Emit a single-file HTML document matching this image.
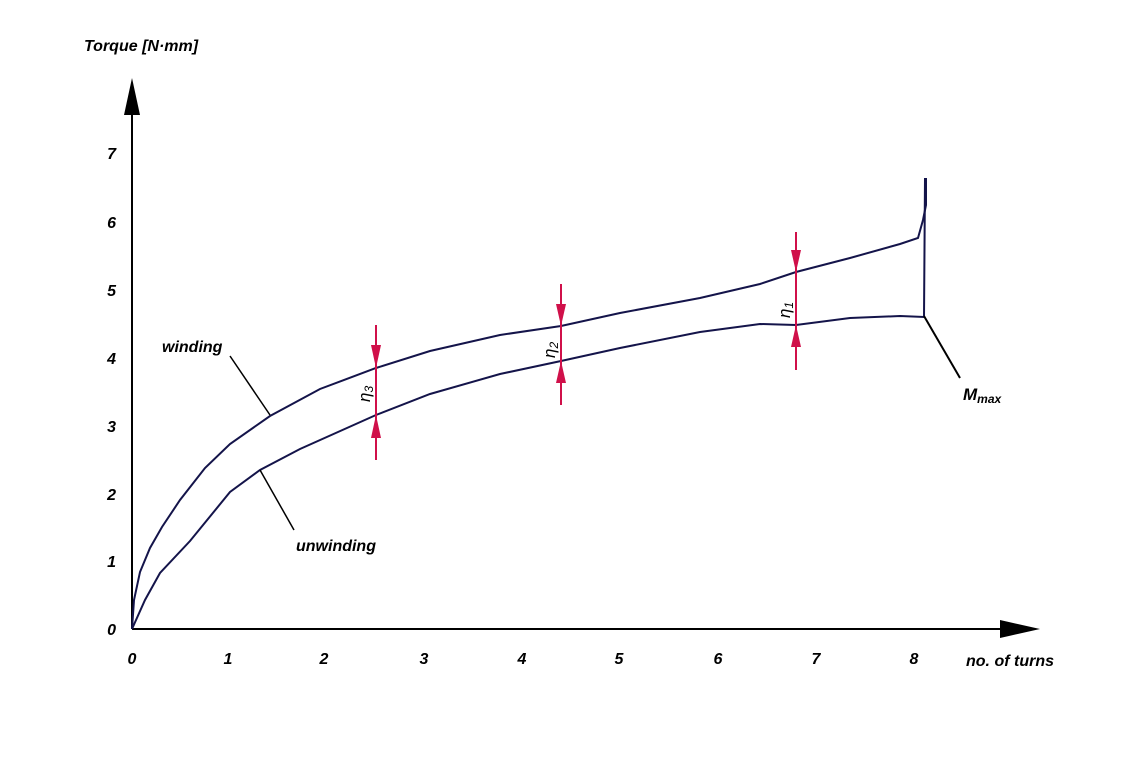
<!DOCTYPE html>
<html><head><style>html,body{margin:0;padding:0;background:#fff}svg{display:block}</style></head>
<body>
<svg width="1147" height="769" xmlns="http://www.w3.org/2000/svg" font-family="Liberation Sans, sans-serif">
<rect width="1147" height="769" fill="#fff"/>
<!-- axes -->
<line x1="132" y1="629" x2="132" y2="110" stroke="#000" stroke-width="2"/>
<polygon points="132,78 124,115 140,115" fill="#000"/>
<line x1="132" y1="629" x2="1005" y2="629" stroke="#000" stroke-width="2"/>
<polygon points="1040,629 1000,620 1000,638" fill="#000"/>
<text x="84" y="51" font-size="16" font-style="italic" font-weight="bold">Torque [N·mm]</text>
<g font-size="16" font-style="italic" font-weight="bold" text-anchor="end">
<text x="116" y="635">0</text><text x="116" y="567">1</text><text x="116" y="500">2</text>
<text x="116" y="432">3</text><text x="116" y="364">4</text><text x="116" y="296">5</text>
<text x="116" y="228">6</text><text x="116" y="159">7</text>
</g>
<g font-size="16" font-style="italic" font-weight="bold" text-anchor="middle">
<text x="132" y="664">0</text><text x="228" y="664">1</text><text x="324" y="664">2</text>
<text x="424" y="664">3</text><text x="522" y="664">4</text><text x="619" y="664">5</text>
<text x="718" y="664">6</text><text x="816" y="664">7</text><text x="914" y="664">8</text>
</g>
<text x="966" y="666" font-size="16" font-style="italic" font-weight="bold">no. of turns</text>
<!-- curves -->
<g fill="none" stroke="#14144a" stroke-width="2">
<polyline points="132,629 134,600 140,572 150,548 162,527 180,500 205,468 230,444 270,416 320,389 376,368 430,351 500,335 561,326 620,313 700,298 760,284 796,272 850,258 900,244 918,238 923,220 926,205 926,178"/>
<polyline points="132,629 145,600 160,573 190,541 230,492 260,470 300,449 376,415 430,394 500,374 561,361 620,348 700,332 760,324 796,325 850,318 900,316 924,317 925,178"/>
</g>
<line x1="924" y1="316" x2="960" y2="378" stroke="#000" stroke-width="2"/>
<line x1="230" y1="356" x2="270" y2="415" stroke="#000" stroke-width="1.5"/>
<line x1="260" y1="470" x2="294" y2="530" stroke="#000" stroke-width="1.5"/>
<text x="162" y="352" font-size="16" font-style="italic" font-weight="bold">winding</text>
<text x="296" y="551" font-size="16" font-style="italic" font-weight="bold">unwinding</text>
<text x="963" y="400" font-size="17" font-style="italic" font-weight="bold">M<tspan font-size="12" dy="3">max</tspan></text>
<!-- red markers -->
<g stroke="#d0104a" stroke-width="2" fill="#d0104a">
<line x1="376" y1="325" x2="376" y2="460"/><polygon points="376,368 371,345 381,345" stroke="none"/><polygon points="376,415 371,438 381,438" stroke="none"/>
<line x1="561" y1="284" x2="561" y2="405"/><polygon points="561,326 556,304 566,304" stroke="none"/><polygon points="561,361 556,383 566,383" stroke="none"/>
<line x1="796" y1="232" x2="796" y2="370"/><polygon points="796,272 791,250 801,250" stroke="none"/><polygon points="796,325 791,347 801,347" stroke="none"/>
</g>
<g font-size="17" font-style="italic" fill="#000">
<text transform="translate(370,402) rotate(-90)">η<tspan font-size="12" dy="3">3</tspan></text>
<text transform="translate(555,358) rotate(-90)">η<tspan font-size="12" dy="3">2</tspan></text>
<text transform="translate(790,318) rotate(-90)">η<tspan font-size="12" dy="3">1</tspan></text>
</g>
</svg>
</body></html>
